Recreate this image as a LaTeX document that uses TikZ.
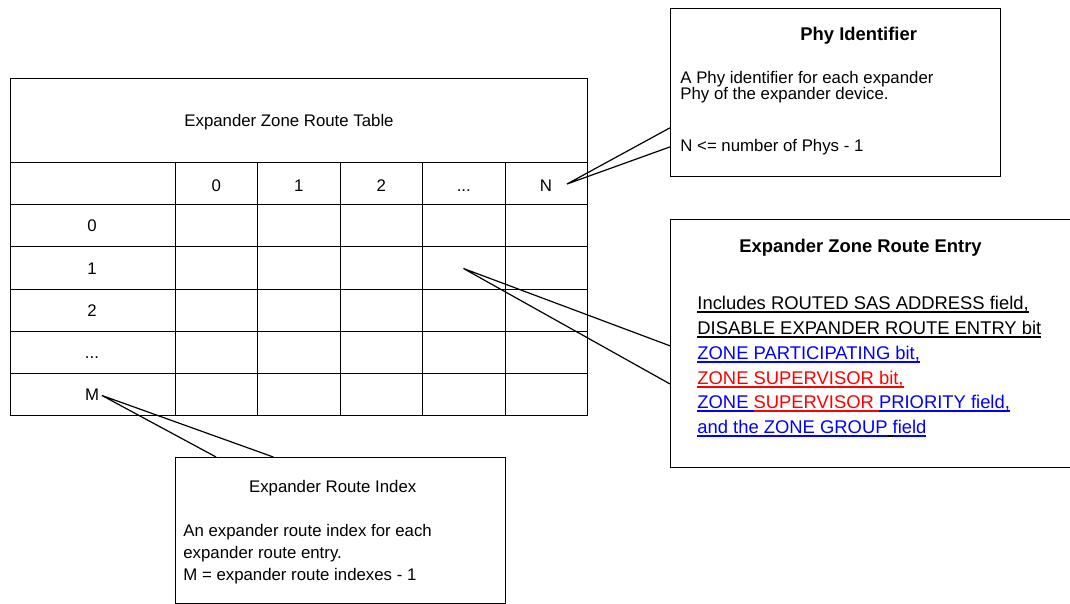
\documentclass[tikz,border=0pt]{standalone}
\usepackage{fontspec}
\setmainfont{Liberation Sans}
\usetikzlibrary{calc}

\definecolor{zblue}{RGB}{0,0,255}
\definecolor{zred}{RGB}{255,0,0}
\newcommand{\smallfnt}{\fontsize{8.4}{10}\selectfont}
\newcommand{\bigfnt}{\fontsize{9.2}{11}\selectfont}
\newcommand{\etcdots}{...}
\newsavebox{\ulnbox}
\newcommand{\uln}[2]{{\color{#1}\sbox{\ulnbox}{#2}\rlap{\vrule height -0.9pt depth 1.8pt width \wd\ulnbox}\usebox{\ulnbox}}}

\begin{document}
\begin{tikzpicture}[x=0.5pt, y=-0.5pt,
    callbox/.style={draw, line width=0.6pt, inner sep=0pt, anchor=north west},
    lbl/.style={font=\smallfnt, inner sep=0pt, anchor=base},
    bodyline/.style={font=\smallfnt, inner sep=0pt, anchor=base west},
    entryline/.style={font=\bigfnt, inner sep=0pt, anchor=base west},
    boxtitle/.style={font=\bigfnt\bfseries, inner sep=0pt, anchor=base},
    pointer/.style={line width=0.6pt, line join=miter}]
    \clip (0,0) rectangle (1070,604);

    \draw[line width=0.5pt] (10,79) rectangle (587,415);
    \draw[line width=0.5pt] (10,163) -- (587,163);
    \foreach \y in {205,247,289,331,373}
        \draw[line width=0.5pt] (10,\y) -- (587,\y);
    \foreach \x in {175,257.5,340,422.5,505}
        \draw[line width=0.5pt] (\x,163) -- (\x,415);

    \node[lbl] (tabletitle) at (289,127) {Expander Zone Route Table};
    \foreach \lab/\x [count=\i] in {0/216.25, 1/298.75, 2/381.25, \etcdots/463.75, N/546}
        \node[lbl] (col\i) at (\x,191.5) {\lab};
    \foreach \lab/\y [count=\i] in {0/232, 1/274, 2/316, \etcdots/358, M/400}
        \node[lbl] (row\i) at (92,\y) {\lab};

    \coordinate (ntip) at (567,184);
    \coordinate (celltip) at (463.5,268.5);
    \coordinate (mtip) at (102,395.5);

    \node[callbox, minimum width=165pt, minimum height=84pt] (phy) at (670,8) {};
    \node[boxtitle] (phytitle) at (858.7,41) {Phy Identifier};
    \node[bodyline] (phy1) at (680,83.5) {A Phy identifier for each expander};
    \node[bodyline] (phy2) at (680,99.5) {Phy of the expander device.};
    \node[bodyline] (phy3) at (680,151.5) {N <= number of Phys - 1};

    \node[callbox, minimum width=205pt, minimum height=124pt] (entry) at (670,219) {};
    \node[boxtitle] (entrytitle) at (860.5,253) {Expander Zone Route Entry};
    \node[entryline] (entry1) at (697,309.5) {\uln{black}{Includes ROUTED SAS ADDRESS field,}};
    \node[entryline] (entry2) at (697,334) {\uln{black}{DISABLE EXPANDER ROUTE ENTRY bit}};
    \node[entryline] (entry3) at (697,359) {\uln{zblue}{ZONE PARTICIPATING bit,}};
    \node[entryline] (entry4) at (697,384) {\uln{zred}{ZONE SUPERVISOR bit,}};
    \node[entryline] (entry5) at (697,408.5) {\uln{zblue}{ZONE\ }\uln{zred}{SUPERVISOR\ }\uln{zblue}{PRIORITY field,}};
    \node[entryline] (entry6) at (697,433) {\uln{zblue}{and the ZONE GROUP}\uln{black}{\ }\uln{zblue}{field}};

    \node[callbox, minimum width=165pt, minimum height=73pt] (index) at (175,457) {};
    \node[lbl] (indextitle) at (332.7,492) {Expander Route Index};
    \node[bodyline] (index1) at (183,536) {An expander route index for each};
    \node[bodyline] (index2) at (183,558) {expander route entry.};
    \node[bodyline] (index3) at (183,580) {M = expander route indexes - 1};

    \draw[pointer] ($(phy.north west)!0.708!(phy.south west)$) -- (ntip) -- ($(phy.north west)!0.821!(phy.south west)$);
    \draw[pointer] ($(entry.north west)!0.509!(entry.south west)$) -- (celltip) -- ($(entry.north west)!0.662!(entry.south west)$);
    \draw[pointer] ($(index.north west)!0.124!(index.north east)$) -- (mtip) -- ($(index.north west)!0.297!(index.north east)$);
\end{tikzpicture}
\end{document}
